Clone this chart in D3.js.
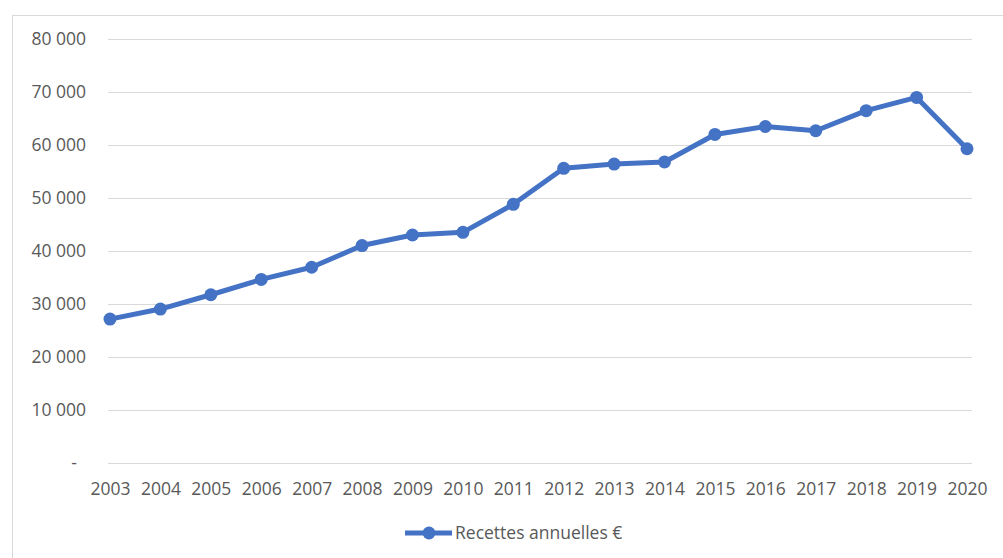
<!DOCTYPE html>
<html>
<head>
<meta charset="utf-8">
<script src="https://cdn.jsdelivr.net/npm/d3@7/dist/d3.min.js"></script>
<style>
  html, body { margin: 0; padding: 0; background: #ffffff; }
  svg { display: block; }
  text { font-family: "Open Sans", "Liberation Sans", sans-serif; fill: #595959; }
</style>
</head>
<body>
<svg id="chart" width="1003" height="558"></svg>
<script>
// Annual revenue, 2003–2020
const years = ["2003","2004","2005","2006","2007","2008","2009","2010","2011",
               "2012","2013","2014","2015","2016","2017","2018","2019","2020"];
const recettes = [27100, 29000, 31700, 34600, 36900, 41000, 43000, 43500, 48800,
                  55600, 56400, 56800, 62000, 63500, 62700, 66500, 69000, 59300];
const yTicks = [0, 10000, 20000, 30000, 40000, 50000, 60000, 70000, 80000];
const seriesName = "Recettes annuelles €";

const svg = d3.select("#chart");
const blue = "#4472C4";

// chart frame
svg.append("rect")
  .attr("x", 12.5).attr("y", 15.5)
  .attr("width", 1003).attr("height", 560)
  .attr("fill", "#ffffff").attr("stroke", "#d9d9d9").attr("stroke-width", 1);

const x = d3.scalePoint().domain(years).range([110, 967]);
const y = d3.scaleLinear().domain([0, 80000]).range([462.5, 39.2]);

const fmt = v => v === 0 ? "-" : d3.format(",")(v).replace(/,/g, " ");

// horizontal gridlines
svg.append("g").selectAll("line").data(yTicks).join("line")
  .attr("x1", 108).attr("x2", 972)
  .attr("y1", d => Math.round(y(d)) + 0.5).attr("y2", d => Math.round(y(d)) + 0.5)
  .attr("stroke", "#d9d9d9").attr("stroke-width", 1);

// y axis labels
const yAxis = d3.axisLeft(y).tickValues(yTicks).tickFormat(fmt).tickSize(0).tickPadding(0);
const gy = svg.append("g").attr("transform", "translate(86,0)").call(yAxis);
gy.select(".domain").remove();
gy.selectAll("text").attr("font-size", 17.5).attr("fill", "#595959")
  .attr("font-family", "'Open Sans', sans-serif")
  .attr("dx", d => d === 0 ? -9 : 0);

// x axis labels
const xAxis = d3.axisBottom(x).tickSize(0).tickPadding(0);
const gx = svg.append("g").attr("transform", "translate(0,483)").call(xAxis);
gx.select(".domain").remove();
gx.selectAll("text").attr("font-size", 17.5).attr("fill", "#595959")
  .attr("font-family", "'Open Sans', sans-serif");

// series line and markers
const line = d3.line().x((d, i) => x(years[i])).y(d => y(d));
svg.append("path").datum(recettes)
  .attr("d", line).attr("fill", "none")
  .attr("stroke", blue).attr("stroke-width", 5)
  .attr("stroke-linejoin", "round").attr("stroke-linecap", "round");

svg.append("g").selectAll("circle").data(recettes).join("circle")
  .attr("cx", (d, i) => x(years[i])).attr("cy", d => y(d))
  .attr("r", 6.5).attr("fill", blue);

// legend
const lg = svg.append("g").attr("transform", "translate(405,533)");
lg.append("line").attr("x1", 0).attr("x2", 47).attr("y1", 0).attr("y2", 0)
  .attr("stroke", blue).attr("stroke-width", 5);
lg.append("circle").attr("cx", 24).attr("cy", 0).attr("r", 6.5).attr("fill", blue);
lg.append("text").attr("x", 50).attr("y", 0).attr("dy", "0.35em")
  .attr("font-size", 17.5).text(seriesName);
</script>
</body>
</html>
